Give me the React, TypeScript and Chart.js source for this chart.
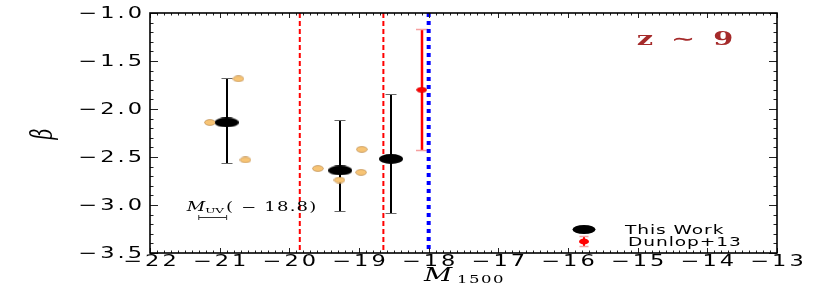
import React, { useEffect, useRef } from 'react';
import { Chart, registerables } from 'chart.js';
Chart.register(...registerables);

// ---- data ----
const xTickValues = [-22, -21, -20, -19, -18, -17, -16, -15, -14, -13];
const xTickLabels = ['−22', '−21', '−20', '−19', '−18', '−17', '−16', '−15', '−14', '−13'];
const yTickValues = [-1.0, -1.5, -2.0, -2.5, -3.0, -3.5];
const yTickLabels = ['−1.0', '−1.5', '−2.0', '−2.5', '−3.0', '−3.5'];

const thisWorkM = [-20.9, -19.27, -18.54];
const thisWorkBeta = [-2.14, -2.64, -2.52];
const thisWorkErrUp = [0.46, 0.53, 0.68];
const thisWorkErrDown = [0.42, 0.42, 0.56];

const dunlopM = [-18.1];
const dunlopBeta = [-1.8];
const dunlopErrUp = [0.63];
const dunlopErrDown = [0.63];

const galaxyM = [-21.14, -20.73, -20.63, -19.59, -19.28, -18.96, -18.97];
const galaxyBeta = [-2.14, -1.685, -2.53, -2.62, -2.74, -2.42, -2.66];

const limitRedM = [-19.85, -18.65];
const limitBlueM = [-18.0];

const muvBarCenter = [-21.1];
const muvBarHalf = [0.2];
const muvBarBeta = [-3.13];

const xMin = -22, xMax = -13, yMin = -3.5, yMax = -1.0;
const xMinorStep = 0.1, yMinorStep = 0.1;

function ellipseCanvas(w: number, h: number, fill: string, stroke: string | null, lw: number) {
  const c = document.createElement('canvas');
  c.width = w; c.height = h;
  const g = c.getContext('2d')!;
  g.beginPath();
  g.ellipse(w / 2, h / 2, w / 2 - lw, h / 2 - lw, 0, 0, Math.PI * 2);
  g.fillStyle = fill; g.fill();
  if (stroke) { g.lineWidth = lw; g.strokeStyle = stroke; g.stroke(); }
  return c;
}

function drawText(ctx: CanvasRenderingContext2D, text: string, x: number, y: number,
  font: string, color: string, align: 'left' | 'center' | 'right', sx: number, spacing: number) {
  ctx.save();
  ctx.font = font;
  (ctx as any).letterSpacing = spacing + 'px';
  ctx.fillStyle = color;
  ctx.textAlign = 'left';
  ctx.textBaseline = 'alphabetic';
  const w = ctx.measureText(text).width - spacing;
  ctx.translate(x, y);
  ctx.scale(sx, 1);
  const dx = align === 'center' ? -w / 2 : align === 'right' ? -w : 0;
  ctx.fillText(text, dx, 0);
  ctx.restore();
  return w * sx;
}

const overlay = {
  id: 'overlay',
  beforeDatasetsDraw(chart: any) {
    const ctx: CanvasRenderingContext2D = chart.ctx;
    const xs = chart.scales.x, ys = chart.scales.y;
    ctx.save();
    // This Work error bars
    for (let i = 0; i < thisWorkM.length; i++) {
      const x = Math.round(xs.getPixelForValue(thisWorkM[i]));
      const yt = Math.round(ys.getPixelForValue(thisWorkBeta[i] + thisWorkErrUp[i])) + 0.5;
      const yb = Math.round(ys.getPixelForValue(thisWorkBeta[i] - thisWorkErrDown[i])) + 0.5;
      ctx.strokeStyle = '#000'; ctx.lineWidth = 2;
      ctx.beginPath(); ctx.moveTo(x, yt); ctx.lineTo(x, yb); ctx.stroke();
      ctx.strokeStyle = '#666'; ctx.lineWidth = 1.2;
      ctx.beginPath();
      ctx.moveTo(x - 5.5, yt); ctx.lineTo(x + 5.5, yt);
      ctx.moveTo(x - 5.5, yb); ctx.lineTo(x + 5.5, yb);
      ctx.stroke();
    }
    // Dunlop error bars
    for (let i = 0; i < dunlopM.length; i++) {
      const x = Math.round(xs.getPixelForValue(dunlopM[i]));
      const yt = Math.round(ys.getPixelForValue(dunlopBeta[i] + dunlopErrUp[i])) + 0.5;
      const yb = Math.round(ys.getPixelForValue(dunlopBeta[i] - dunlopErrDown[i])) + 0.5;
      ctx.strokeStyle = '#ff0000'; ctx.lineWidth = 2.5;
      ctx.beginPath(); ctx.moveTo(x, yt); ctx.lineTo(x, yb); ctx.stroke();
      ctx.strokeStyle = '#f5a0a0'; ctx.lineWidth = 1.5;
      ctx.beginPath();
      ctx.moveTo(x - 6, yt); ctx.lineTo(x + 6, yt);
      ctx.moveTo(x - 6, yb); ctx.lineTo(x + 6, yb);
      ctx.stroke();
    }
    ctx.restore();
  },
  afterDraw(chart: any) {
    const ctx: CanvasRenderingContext2D = chart.ctx;
    const xs = chart.scales.x, ys = chart.scales.y;
    const a = chart.chartArea;
    ctx.save();
    // ticks
    ctx.strokeStyle = '#222'; ctx.lineWidth = 1;
    ctx.beginPath();
    const nx = Math.round((xMax - xMin) / xMinorStep);
    for (let i = 0; i <= nx; i++) {
      const v = xMin + i * xMinorStep;
      const major = xTickValues.some(t => Math.abs(t - v) < 1e-6);
      const len = major ? 5 : 2.5;
      const px = Math.round(xs.getPixelForValue(v)) + 0.5;
      ctx.moveTo(px, a.bottom); ctx.lineTo(px, a.bottom - len);
      ctx.moveTo(px, a.top); ctx.lineTo(px, a.top + len);
    }
    const ny = Math.round((yMax - yMin) / yMinorStep);
    for (let i = 0; i <= ny; i++) {
      const v = yMin + i * yMinorStep;
      const major = yTickValues.some(t => Math.abs(t - v) < 1e-6);
      const len = major ? 8 : 3.5;
      const py = Math.round(ys.getPixelForValue(v)) + 0.5;
      ctx.moveTo(a.left, py); ctx.lineTo(a.left + len, py);
      ctx.moveTo(a.right, py); ctx.lineTo(a.right - len, py);
    }
    ctx.stroke();
    // frame
    ctx.strokeStyle = '#000'; ctx.lineWidth = 1.6;
    ctx.strokeRect(a.left, a.top, a.right - a.left, a.bottom - a.top);

    // tick labels
    const tickFont = '15px "DejaVu Sans"';
    xTickValues.forEach((v, i) => {
      drawText(ctx, xTickLabels[i], xs.getPixelForValue(v), a.bottom + 13, tickFont, '#000', 'center', 1.5, 2);
    });
    yTickValues.forEach((v, i) => {
      drawText(ctx, yTickLabels[i], a.left - 8, ys.getPixelForValue(v) + 5, tickFont, '#000', 'right', 1.5, 2);
    });

    // axis titles
    const cx = (a.left + a.right) / 2;
    const wM = 33, wSub = 46;
    const startX = cx - (wM + wSub) / 2;
    drawText(ctx, 'M', startX, a.bottom + 28, 'italic 19px "DejaVu Serif"', '#000', 'left', 1.45, 0);
    drawText(ctx, '1500', startX + wM, a.bottom + 30, '11px "DejaVu Serif"', '#000', 'left', 1.5, 1);

    ctx.save();
    ctx.translate(44, (a.top + a.bottom) / 2 + 1);
    ctx.scale(1.6, 1);
    ctx.rotate(-Math.PI / 2);
    ctx.font = 'italic 19px "DejaVu Serif"';
    ctx.fillStyle = '#000';
    ctx.textAlign = 'center';
    ctx.textBaseline = 'middle';
    ctx.fillText('β', 0, 0);
    ctx.restore();

    // z ~ 9
    drawText(ctx, 'z ∼ 9', a.right - 92, a.top + 32, 'bold 18px "DejaVu Serif"', '#a52a2a', 'center', 1.6, 2.5);

    // MUV annotation bar
    const bx1 = xs.getPixelForValue(muvBarCenter[0] - muvBarHalf[0]);
    const bx2 = xs.getPixelForValue(muvBarCenter[0] + muvBarHalf[0]);
    const by = Math.round(ys.getPixelForValue(muvBarBeta[0])) + 0.5;
    ctx.strokeStyle = '#333'; ctx.lineWidth = 1;
    ctx.beginPath();
    ctx.moveTo(bx1, by); ctx.lineTo(bx2, by);
    ctx.moveTo(bx1, by - 2.5); ctx.lineTo(bx1, by + 2.5);
    ctx.moveTo(bx2, by - 2.5); ctx.lineTo(bx2, by + 2.5);
    ctx.stroke();
    let tx = bx1 - 12;
    const tyb = by - 7;
    tx += drawText(ctx, 'M', tx, tyb, 'italic 12px "DejaVu Serif"', '#000', 'left', 1.5, 0);
    tx += drawText(ctx, 'UV', tx, tyb + 2, '8px "DejaVu Serif"', '#000', 'left', 1.5, 0) + 2;
    drawText(ctx, '( − 18.8)', tx, tyb, '12px "DejaVu Serif"', '#000', 'left', 1.5, 0.8);

    // legend
    const lx = a.right - 193;
    const ly1 = a.bottom - 23.5, ly2 = a.bottom - 11.5;
    ctx.fillStyle = '#000';
    ctx.beginPath(); ctx.ellipse(lx, ly1, 11.5, 4.5, 0, 0, Math.PI * 2); ctx.fill();
    ctx.strokeStyle = '#ff0000'; ctx.lineWidth = 2;
    ctx.beginPath(); ctx.moveTo(lx, ly2 - 5); ctx.lineTo(lx, ly2 + 5); ctx.stroke();
    ctx.strokeStyle = '#f5a0a0'; ctx.lineWidth = 1.5;
    ctx.beginPath();
    ctx.moveTo(lx - 4.5, ly2 - 5); ctx.lineTo(lx + 4.5, ly2 - 5);
    ctx.moveTo(lx - 4.5, ly2 + 5); ctx.lineTo(lx + 4.5, ly2 + 5);
    ctx.stroke();
    ctx.fillStyle = '#ff0000';
    ctx.beginPath(); ctx.ellipse(lx, ly2, 5, 3, 0, 0, Math.PI * 2); ctx.fill();
    const legFont = '12px "DejaVu Sans"';
    drawText(ctx, 'This Work', lx + 41, ly1 + 4, legFont, '#000', 'left', 1.55, 0.6);
    drawText(ctx, 'Dunlop+13', lx + 44, ly2 + 4.5, legFont, '#000', 'left', 1.55, 0.6);
    ctx.restore();
  },
};

export default function App() {
  const ref = useRef<HTMLCanvasElement>(null);
  useEffect(() => {
    document.body.style.margin = '0';
    const blackEll = ellipseCanvas(24, 10, '#000', null, 0);
    const orangeEll = ellipseCanvas(12, 7, '#f7c475', '#b07e40', 0.6);
    const redEll = ellipseCanvas(11, 6, '#ff0000', '#c00000', 0.5);
    const vline = (m: number, color: string, dash: number[], w: number) => ({
      type: 'line' as const,
      data: [{ x: m, y: yMax }, { x: m, y: yMin }],
      borderColor: color,
      borderDash: dash,
      borderWidth: w,
      pointRadius: 0,
      showLine: true,
      fill: false,
    });
    const chart = new Chart(ref.current!, {
      type: 'scatter',
      data: {
        datasets: [
          {
            label: 'Dunlop+13',
            data: dunlopM.map((m, i) => ({ x: m, y: dunlopBeta[i] })),
            pointStyle: redEll as any,
            pointRadius: 5,
          },
          {
            label: 'This Work',
            data: thisWorkM.map((m, i) => ({ x: m, y: thisWorkBeta[i] })),
            pointStyle: blackEll as any,
            pointRadius: 10,
          },
          {
            label: 'galaxies',
            data: galaxyM.map((m, i) => ({ x: m, y: galaxyBeta[i] })),
            pointStyle: orangeEll as any,
            pointRadius: 6,
          },
          ...limitRedM.map(m => vline(m, '#ff0000', [5, 3], 2)),
          ...limitBlueM.map(m => vline(m, '#0000ff', [4, 4], 4)),
        ] as any,
      },
      options: {
        animation: false,
        responsive: false,
        devicePixelRatio: 1,
        layout: { padding: { left: 150, right: 53, top: 13, bottom: 38 } },
        plugins: { legend: { display: false }, tooltip: { enabled: false } },
        scales: {
          x: {
            type: 'linear', min: xMin, max: xMax,
            grid: { display: false, drawTicks: false },
            border: { display: false },
            ticks: { display: false },
            afterFit: (s: any) => { s.height = 0; },
          },
          y: {
            type: 'linear', min: yMin, max: yMax,
            grid: { display: false, drawTicks: false },
            border: { display: false },
            ticks: { display: false },
            afterFit: (s: any) => { s.width = 0; },
          },
        },
      },
      plugins: [overlay],
    });
    return () => chart.destroy();
  }, []);
  return (
    <div style={{ width: 830, height: 291, background: '#fff' }}>
      <canvas ref={ref} width={830} height={291} style={{ display: 'block' }} />
    </div>
  );
}
